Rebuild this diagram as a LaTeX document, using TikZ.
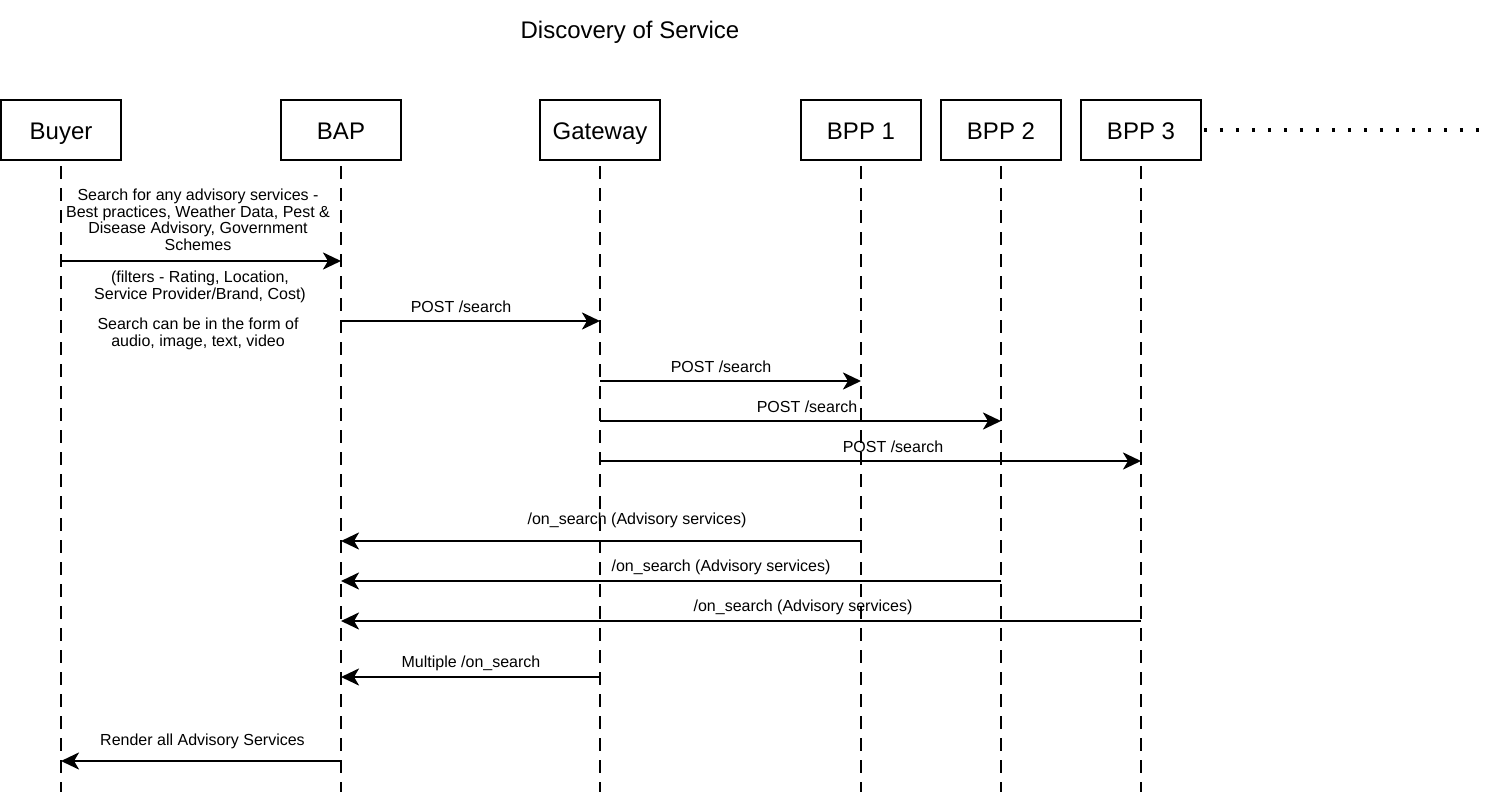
\documentclass[tikz,border=0pt]{standalone}
\usepackage{fontspec}
\setmainfont{Liberation Sans}
\usetikzlibrary{arrows.meta}
\begin{document}
\begin{tikzpicture}[x=1pt,y=-1pt,
  bigtext/.style={inner sep=0pt,text height=18pt,text depth=0pt,font=\fontsize{24}{28}\selectfont},
  actor/.style={bigtext,draw,line width=2.6pt,minimum width=120pt,minimum height=60pt},
  lifeline/.style={line width=2.6pt,dash pattern=on 13pt off 9pt},
  msg/.style={line width=2.7pt,-{Stealth[length=18pt,width=17pt,inset=5pt]}},
  lbl/.style={inner sep=0pt,align=center,font=\fontsize{16}{16.5}\selectfont},
  more/.style={line width=3.4pt,dash pattern=on 3.4pt off 12.6pt}]
\useasboundingbox (0,0) rectangle (1486,792);

% title
\node[bigtext] (title) at (630,30) {Discovery of Service};

% participants
\node[actor] (buyer) at (61,130) {Buyer};
\node[actor] (bap) at (341,130) {BAP};
\node[actor] (gw) at (600,130) {Gateway};
\node[actor] (bpp1) at (861,130) {BPP 1};
\node[actor] (bpp2) at (1001,130) {BPP 2};
\node[actor] (bpp3) at (1141,130) {BPP 3};

% further providers
\coordinate (etc) at (1486,130);
\draw[more] (bpp3.east) ++(1.6pt,0) -- (etc);

% lifelines
\foreach \p in {buyer,bap,gw,bpp1,bpp2,bpp3}{
  \coordinate (\p-end) at (\p |- 0,792);
  \draw[lifeline] (\p.south) ++(0,5) -- (\p-end);
}

% buyer search request
\draw[msg] (buyer |- 0,261) -- (bap |- 0,261);
\node[lbl] (l1) at (198,220) {Search for any advisory services -\\Best practices, Weather Data, Pest \&\\Disease Advisory, Government\\Schemes};
\node[lbl] (l1b) at (200,287) {(filters - Rating, Location,\\Service Provider/Brand, Cost)};
\node[lbl] (l1c) at (198,334) {Search can be in the form of\\audio, image, text, video};

% search fan-out
\draw[msg] (bap |- 0,321) -- (gw |- 0,321);
\node[lbl] (l2) at (461,307) {POST /search};
\draw[msg] (gw |- 0,381) -- (bpp1 |- 0,381);
\node[lbl] (l3) at (721,367) {POST /search};
\draw[msg] (gw |- 0,421) -- (bpp2 |- 0,421);
\node[lbl] (l4) at (807,407) {POST /search};
\draw[msg] (gw |- 0,461) -- (bpp3 |- 0,461);
\node[lbl] (l5) at (893,447) {POST /search};

% catalogue responses
\draw[msg] (bpp1 |- 0,541) -- (bap |- 0,541);
\node[lbl] (l6) at (637,520) {/on\_search (Advisory services)};
\draw[msg] (bpp2 |- 0,581) -- (bap |- 0,581);
\node[lbl] (l7) at (721,567) {/on\_search (Advisory services)};
\draw[msg] (bpp3 |- 0,621) -- (bap |- 0,621);
\node[lbl] (l8) at (803,607) {/on\_search (Advisory services)};

\draw[msg] (gw |- 0,677) -- (bap |- 0,677);
\node[lbl] (l9) at (471,663) {Multiple /on\_search};

\draw[msg] (bap |- 0,761) -- (buyer |- 0,761);
\node[lbl] (l10) at (202.5,741) {Render all Advisory Services};
\end{tikzpicture}
\end{document}
